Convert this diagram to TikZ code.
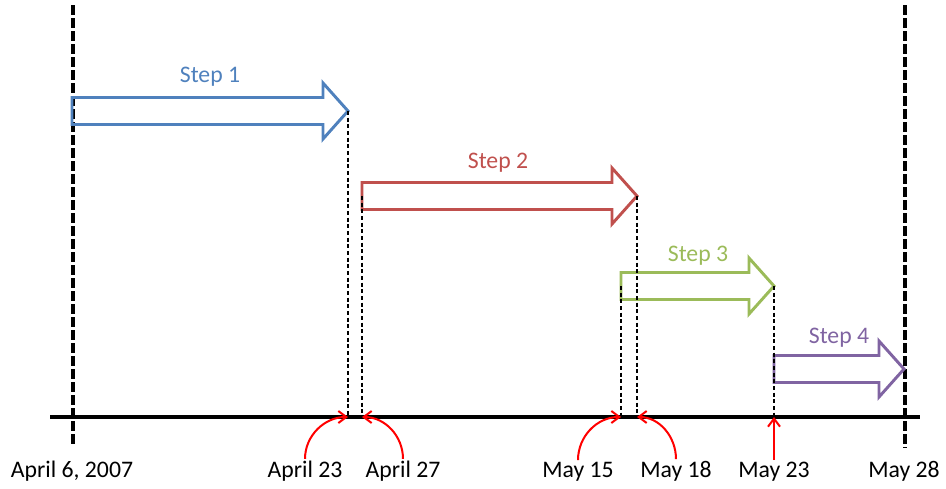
\documentclass[tikz,border=0pt]{standalone}
\usepackage{fontspec}
\setmainfont{Carlito}
\usetikzlibrary{arrows.meta}

\definecolor{stepblue}{HTML}{4F81BD}
\definecolor{stepred}{HTML}{C0504D}
\definecolor{stepgreen}{HTML}{9BBB59}
\definecolor{steppurple}{HTML}{8064A2}

\begin{document}
\begin{tikzpicture}[x=0.75pt, y=-0.75pt]
\newcommand{\shaft}{13.5}
\newcommand{\head}{28}
\newcommand{\headlen}{25}
\newcommand{\axisy}{417}
\newcommand{\steparrow}[4]{%
  \draw[steparrow, #4] (#1,#3-\shaft) -- (#2-\headlen,#3-\shaft) -- (#2-\headlen,#3-\head)
    -- (#2,#3) -- (#2-\headlen,#3+\head) -- (#2-\headlen,#3+\shaft) -- (#1,#3+\shaft) -- cycle;}

\tikzset{ steparrow/.style={line width=2.2pt, line join=miter},
  steplabel/.style={font={\fontsize{17.8}{20}\selectfont}, anchor=base},
  datelabel/.style={font={\fontsize{17.8}{20}\selectfont}, anchor=base, inner sep=1pt},
  bigdash/.style={line width=3pt, dash pattern=on 7.5pt off 2.25pt},
  smalldash/.style={line width=1.4pt, dash pattern=on 3pt off 2pt},
  pointer/.style={red, line width=1.5pt, -{Straight Barb[length=6pt,width=9pt]}}
}

\useasboundingbox (0,0) rectangle (946,489);

% time axis
\coordinate (axisL) at (50,\axisy);
\coordinate (axisR) at (920,\axisy);
\draw[line width=2.5pt] (axisL) -- (axisR);

% start and end of the project
\coordinate (startT) at (73,5);
\coordinate (startB) at (73,445);
\coordinate (endT) at (905,5);
\coordinate (endB) at (905,448);
\draw[bigdash] (startT) -- (startB);
\draw[bigdash] (endT) -- (endB);

% steps
\steparrow{72}{348}{111}{stepblue}
\steparrow{362}{637}{196}{stepred}
\steparrow{621}{774}{286}{stepgreen}
\steparrow{774}{904}{369}{steppurple}

\node[steplabel, text=stepblue] (s1) at (210,82) {Step 1};
\node[steplabel, text=stepred] (s2) at (498,168) {Step 2};
\node[steplabel, text=stepgreen] (s3) at (698,261) {Step 3};
\node[steplabel, text=steppurple] (s4) at (839,343) {Step 4};

% ends of the steps
\coordinate (tip1) at (348,111);
\coordinate (tail2) at (362,196);
\coordinate (tip2) at (637,196);
\coordinate (tail3) at (621,286);
\coordinate (tip3) at (774,286);

\draw[smalldash] (tip1) -- (tip1 |- axisL);
\draw[smalldash] (tail2) -- (tail2 |- axisL);
\draw[smalldash] (tip2) -- (tip2 |- axisL);
\draw[smalldash] (tail3) -- (tail3 |- axisL);
\draw[smalldash] (tip3) -- (tip3 |- axisL);

% dates
\node[datelabel] (apr6) at (72,477) {April 6, 2007};
\node[datelabel] (apr23) at (305,477) {April 23};
\node[datelabel] (apr27) at (403,477) {April 27};
\node[datelabel] (may15) at (578,477) {May 15};
\node[datelabel] (may18) at (676,477) {May 18};
\node[datelabel] (may23) at (774,477) {May 23};
\node[datelabel] (may28) at (904,477) {May 28};

\draw[pointer] (apr23.north) to[out=90, in=180] (tip1 |- axisL);
\draw[pointer] (apr27.north) to[out=90, in=0] (tail2 |- axisL);
\draw[pointer] (may15.north) to[out=90, in=180] (tail3 |- axisL);
\draw[pointer] (may18.north) to[out=90, in=0] (tip2 |- axisL);
\draw[pointer] (may23.north) -- (tip3 |- axisL);

\end{tikzpicture}
\end{document}
